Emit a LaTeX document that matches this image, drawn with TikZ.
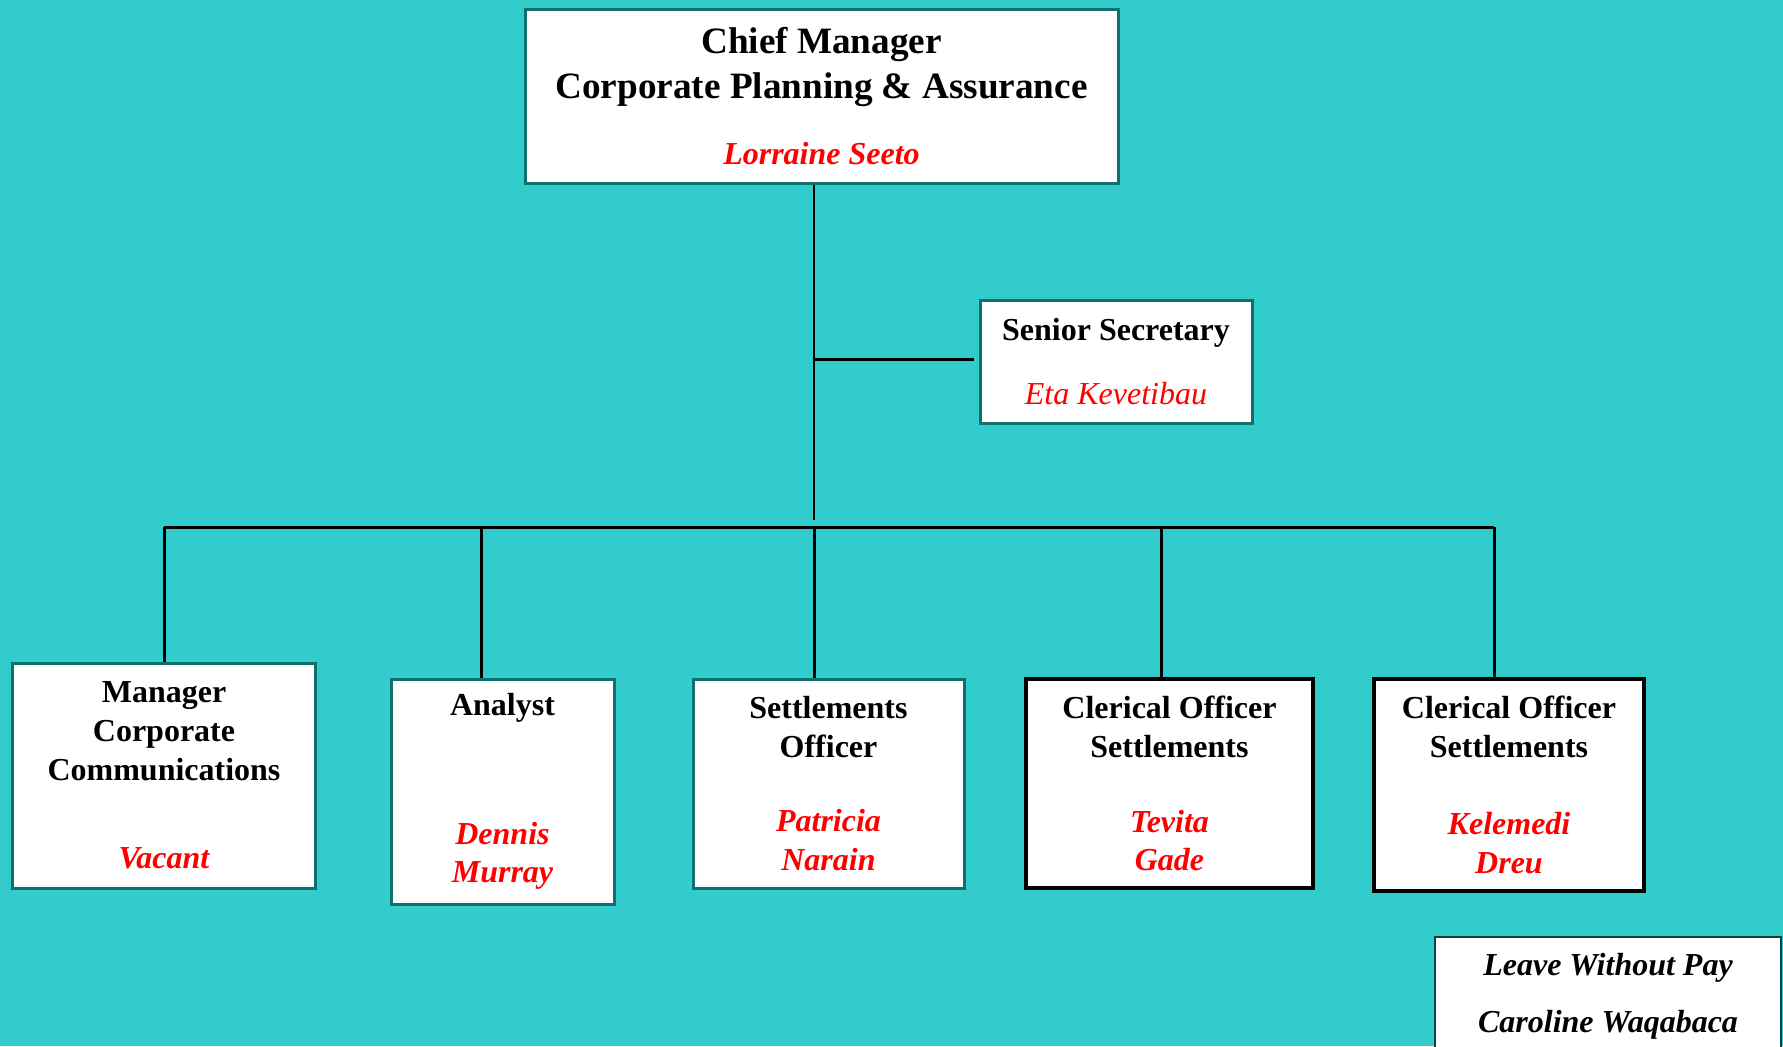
\documentclass[tikz,border=0pt]{standalone}
\usepackage{fontspec}
\setmainfont{Liberation Serif}
\usepackage{xcolor}
\usetikzlibrary{calc}
\definecolor{bgcyan}{RGB}{51,204,204}
\definecolor{boxteal}{RGB}{16,112,112}
\definecolor{namered}{RGB}{255,0,0}

\tikzset{
	post/.style={draw=boxteal, line width=1.5pt, fill=white, align=center, inner sep=0pt,
		font=\fontsize{16}{19.4}\selectfont\bfseries},
	postblack/.style={post, draw=black, line width=2pt},
	link/.style={black, line width=1.5pt},
	trunkline/.style={black, line width=0.7pt},
}
\newcommand{\who}[1]{\textcolor{namered}{\itshape #1}}

\begin{document}
\begin{tikzpicture}[x=0.5pt,y=-0.5pt]
					\useasboundingbox[fill=bgcyan] (0,0) rectangle (1783,1046);
					
					\node[post, minimum width=296.5pt, minimum height=87pt, font=\fontsize{18.6}{22.7}\selectfont\bfseries] (chief) at (821.5,96)
						{Chief Manager\\Corporate Planning \& Assurance\\[10pt]{\fontsize{16}{19.4}\selectfont\who{Lorraine Seeto}}};
					\node[post, minimum width=136pt, minimum height=61.5pt] (secretary) at (1116,361.5)
						{Senior Secretary\\[13pt]\textcolor{namered}{\mdseries\itshape Eta Kevetibau}};
					
					\node[post, minimum width=151.5pt, minimum height=112.5pt] (manager) at (164,775.5)
						{Manager\\Corporate\\Communications\\[25pt]\who{Vacant}};
					\node[post, minimum width=111.5pt, minimum height=112.5pt] (analyst) at (502.5,791.5)
						{Analyst\\[45pt]\who{Dennis}\\\who{Murray}};
					\node[post, minimum width=135.5pt, minimum height=104.5pt] (settlements) at (828.5,783.5)
						{Settlements\\Officer\\[18pt]\who{Patricia}\\\who{Narain}};
					\node[postblack, minimum width=143.5pt, minimum height=104.5pt] (clericalA) at (1169.5,783.5)
						{Clerical Officer\\Settlements\\[18pt]\who{Tevita}\\\who{Gade}};
					\node[postblack, minimum width=135pt, minimum height=106pt] (clericalB) at (1509,785)
						{Clerical Officer\\Settlements\\[19pt]\who{Kelemedi}\\\who{Dreu}};
					
					\node[post, draw=boxteal!60!black, line width=1pt, anchor=north west, minimum width=173pt, minimum height=59pt,
						font=\fontsize{16}{19.4}\selectfont\bfseries\itshape] (leave) at (1434,936)
						{Leave Without Pay\\[9pt]Caroline Waqabaca};
					
					\coordinate (trunk) at (814,520);
					\coordinate (sectap) at (814,359);
					\coordinate (b1) at (164,527);
					\coordinate (b2) at (481,527);
					\coordinate (b3) at (814,527);
					\coordinate (b4) at (1161,527);
					\coordinate (b5) at (1494,527);
					
					\draw[trunkline] (trunk |- chief.south) - - (trunk);
					\draw[link] (sectap) - - ($(sectap -| secretary.west)+(-5,0)$);
					\draw[link] (b1) - - (b5);
					\foreach \b/\n in {b1/manager, b2/analyst, b3/settlements, b4/clericalA, b5/clericalB}
						\draw[link] (\b) - - (\b |- \n.north);
				\end{tikzpicture}
\end{document}
